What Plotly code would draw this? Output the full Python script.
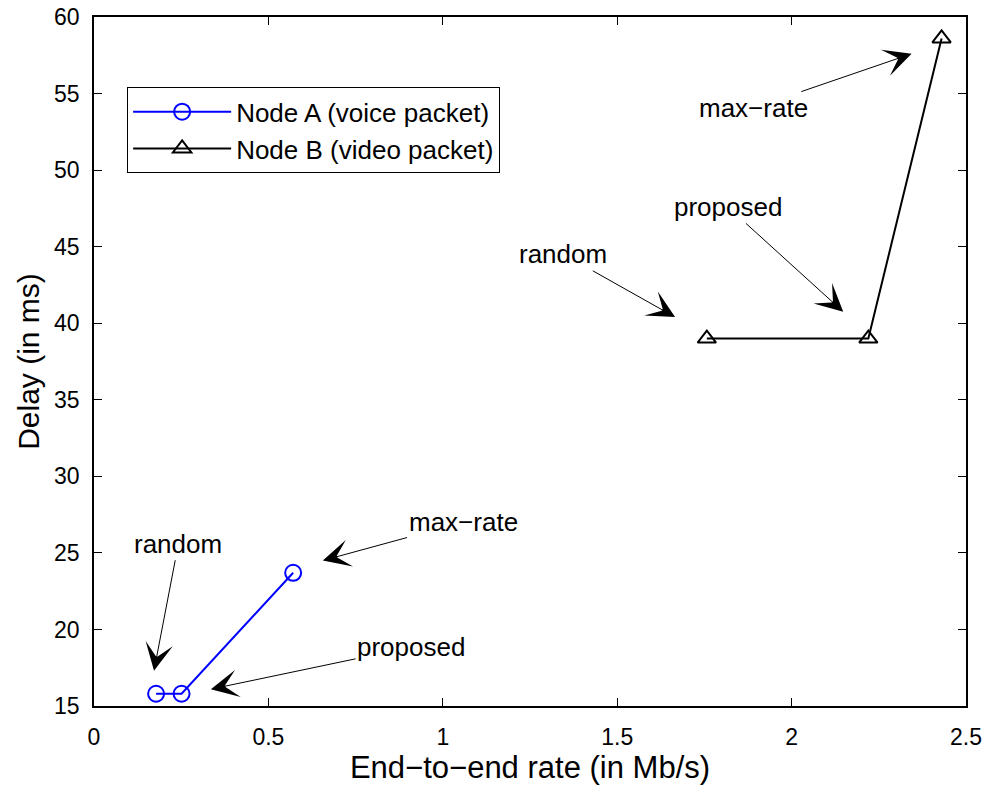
import plotly.graph_objects as go

# Node A (voice packet)
rate_a = [0.178, 0.251, 0.571]
delay_a = [15.8, 15.8, 23.7]
# Node B (video packet)
rate_b = [1.757, 2.22, 2.43]
delay_b = [39.0, 39.0, 58.6]

x_ticks = [0, 0.5, 1, 1.5, 2, 2.5]
x_ticklabels = ["0", "0.5", "1", "1.5", "2", "2.5"]
y_ticks = [15, 20, 25, 30, 35, 40, 45, 50, 55, 60]

# annotation labels: text, arrow head (x, y), text centre (x, y)
ann_text = ["random", "max\u2212rate", "proposed", "random", "proposed", "max\u2212rate"]
ann_head_x = [0.172, 0.656, 0.335, 1.666, 2.148, 2.344]
ann_head_y = [17.3, 24.5, 16.1, 40.4, 40.75, 57.6]
ann_text_x = [0.242, 1.058, 0.909, 1.346, 1.817, 1.890]
ann_text_y = [25.6, 27.0, 18.84, 44.5, 47.6, 54.05]

FONT = "Liberation Sans, Arial, Helvetica, sans-serif"

fig = go.Figure()
fig.add_trace(go.Scatter(
    x=rate_a, y=delay_a, mode="lines+markers", name="Node A (voice packet)",
    line=dict(color="#0000ff", width=2),
    marker=dict(symbol="circle-open", size=16, color="#0000ff", line=dict(width=2)),
))
fig.add_trace(go.Scatter(
    x=rate_b, y=delay_b, mode="lines+markers", name="Node B (video packet)",
    line=dict(color="#000000", width=2),
    marker=dict(symbol="triangle-up-open", size=16, color="#000000", line=dict(width=2)),
))

for t, hx, hy, tx, ty in zip(ann_text, ann_head_x, ann_head_y, ann_text_x, ann_text_y):
    fig.add_annotation(
        x=hx, y=hy, ax=tx, ay=ty, xref="x", yref="y", axref="x", ayref="y",
        text=t, showarrow=True, arrowhead=3, arrowsize=4.6, arrowwidth=1,
        arrowcolor="black", font=dict(family=FONT, size=26, color="black"),
        standoff=0, startstandoff=0,
    )

axis_common = dict(
    showgrid=False, zeroline=False, showline=True, linecolor="black", linewidth=1.5,
    mirror="ticks", ticks="inside", ticklen=8, tickwidth=1, tickcolor="black",
    tickfont=dict(family=FONT, size=23, color="black"),
)

fig.update_xaxes(range=[0, 2.5], tickvals=x_ticks, ticktext=x_ticklabels,
                 title=dict(text="End\u2212to\u2212end rate (in Mb/s)",
                            font=dict(family=FONT, size=31, color="black"), standoff=4),
                 ticklabelstandoff=10, **axis_common)
fig.update_yaxes(range=[15, 60], tickvals=y_ticks,
                 title=dict(text="Delay (in ms)",
                            font=dict(family=FONT, size=30, color="black"), standoff=6),
                 ticklabelstandoff=8, **axis_common)

fig.update_layout(
    width=991, height=785,
    margin=dict(l=94, r=25, t=17, b=79, autoexpand=False),
    plot_bgcolor="white", paper_bgcolor="white",
    font=dict(family=FONT, color="black"),
    legend=dict(x=0.038, y=0.898, xanchor="left", yanchor="top",
                bordercolor="black", borderwidth=1, bgcolor="white",
                font=dict(family=FONT, size=26, color="black"),
                itemwidth=98, tracegroupgap=0),
    showlegend=True,
)

fig.write_html("out.html")
